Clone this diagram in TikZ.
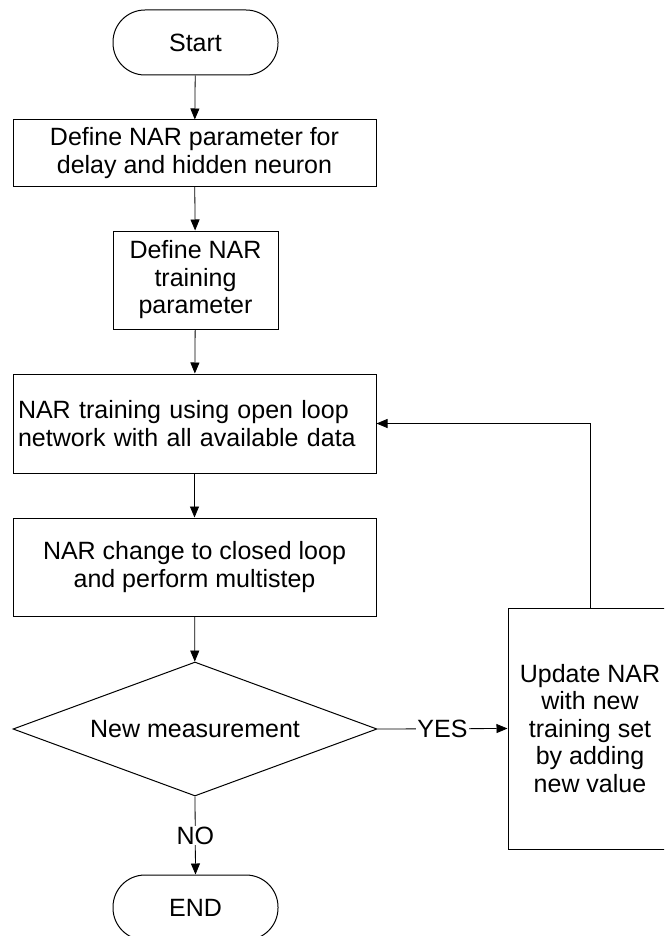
\documentclass[tikz,border=0pt]{standalone}
\usepackage{fontspec}
\setmainfont{Liberation Sans}
\usetikzlibrary{shapes.geometric,arrows.meta}

\tikzset{
    base/.style={draw, line width=1pt, inner sep=0pt, align=center,
        font=\fontsize{25}{27.5}\selectfont},
    terminal/.style={base, rounded corners=32pt, minimum width=165pt, minimum height=65pt},
    procbox/.style={base, rectangle},
    decision/.style={base, diamond, shape aspect=2.7, minimum width=364pt, minimum height=134pt},
    flow/.style={line width=0.8pt, -{Triangle[width=9pt,length=11pt]}},
    answer/.style={fill=white, inner sep=1pt, font=\fontsize{25}{27.5}\selectfont}
}

\begin{document}
\begin{tikzpicture}[x=1pt, y=-1pt]
    \useasboundingbox (0,0) rectangle (664,936);
    \clip (0,0) rectangle (664,936);
    % main column
    \node[terminal] (start) at (195.5,42.5) {Start};
    \node[procbox, minimum width=363pt, minimum height=66pt] (delay) at (194.5,153)
        {Define NAR parameter for\\delay and hidden neuron};
    \node[procbox, minimum width=165pt, minimum height=98pt] (trainpar) at (195.5,280)
        {Define NAR\\training\\parameter};
    \node[procbox, align=left, text width=353pt, inner xsep=5pt, minimum height=99pt] (openloop) at (194.5,423.5)
        {NAR training using open loop\\network with all available data};
    \node[procbox, minimum width=363pt, minimum height=98pt] (closed) at (194.5,567)
        {NAR change to closed loop\\and perform multistep};
    \node[decision] (newmeas) at (195,729) {New measurement};
    \node[terminal] (stop) at (195.5,907.5) {END};
    % update branch
    \node[procbox, minimum width=164pt, minimum height=241pt] (update) at (590,728.5)
        {Update NAR\\with new\\training set\\by adding\\new value};

    \draw[flow] (start) -- (delay);
    \draw[flow] (delay) -- (trainpar);
    \draw[flow] (trainpar) -- (openloop);
    \draw[flow] (openloop) -- (closed);
    \draw[flow] (closed) -- (newmeas);
    \draw[flow] (newmeas.south) -- node[answer] {NO} (stop.north);
    \draw[flow] (newmeas.east) -- node[answer] {YES} (update.west);
    \draw[flow] (update.north) |- (openloop.east);
\end{tikzpicture}
\end{document}
